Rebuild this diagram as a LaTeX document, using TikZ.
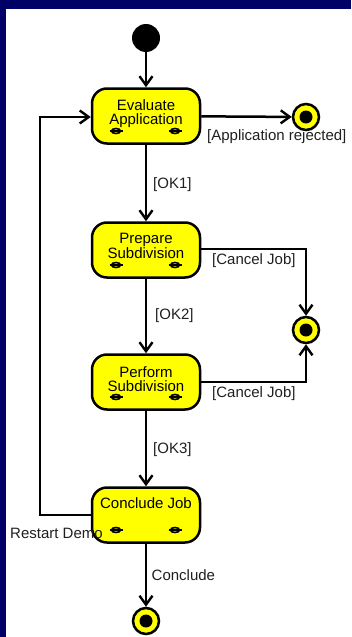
\documentclass[tikz,border=0pt]{standalone}
\usepackage{fontspec}
\setmainfont{Liberation Sans}
\usetikzlibrary{arrows.meta}
\definecolor{frameblue}{HTML}{000066}
\definecolor{actyellow}{HTML}{FFFF00}
\definecolor{labelgray}{HTML}{202020}

\begin{document}
\begin{tikzpicture}[x=1pt,y=-1pt,
  flow/.style={line width=2.5pt,-{Straight Barb[length=9pt,width=13pt,line width=2.4pt]}},
  activity/.style={draw,line width=2.5pt,fill=actyellow,rounded corners=15pt,
    minimum width=108pt,minimum height=55pt,inner sep=0pt},
  acttext/.style={font=\fontsize{15}{14.5}\selectfont,inner sep=0pt,align=center},
  guard/.style={font=\fontsize{15}{15}\selectfont,text=labelgray,inner sep=0pt,anchor=west},
  initial/.style={circle,fill=black,minimum size=28pt,inner sep=0pt},
  final/.style={circle,draw,line width=2.5pt,fill=actyellow,minimum size=26pt,inner sep=0pt}
]
% frame and canvas
\useasboundingbox (0,0) rectangle (351,637);
\fill[frameblue] (0,0) rectangle (351,637);
\fill[white] (6,9) rectangle (351,637);

% states
\node[initial] (start) at (146,38) {};
\node[activity] (eval) at (146,116) {};
\node[activity] (prep) at (146,250) {};
\node[activity] (perf) at (146,382) {};
\node[activity] (concl) at (146,515) {};
\node[final] (rejected) at (306,117) {};
\node[final] (cancelled) at (306,330) {};
\node[final] (done) at (146,621) {};
\foreach \f in {rejected,cancelled,done}
  \fill (\f.center) circle (6.5pt);

% activity names
\node[acttext] (teval) at (146,113.5) {Evaluate\\Application};
\node[acttext] (tprep) at (146,246) {Prepare\\Subdivision};
\node[acttext] (tperf) at (146,379) {Perform\\Subdivision};
\node[acttext] (tconcl) at (146,503) {Conclude Job};

% small action icons in each activity
\foreach \b in {eval,prep,perf,concl}{
  \foreach \dx in {-30,29}{
    \draw[line width=1.6pt] ([xshift=\dx pt,yshift=-15pt]\b.center) ellipse (4.5pt and 2.5pt);
    \draw[line width=1.6pt] ([xshift=\dx pt-6.5pt,yshift=-15pt]\b.center) -- ++(13,0);
  }
}

% transitions
\draw[flow] (start) -- (eval);
\draw[flow] (eval) -- (rejected);
\draw[flow] (eval) -- (prep);
\draw[flow] (prep) -- (perf);
\draw[flow] (perf) -- (concl);
\draw[flow] (concl) -- (done);
\coordinate (c1) at (306,249);
\coordinate (c2) at (306,382);
\draw[flow] (prep.east |- c1) -- (c1) -- (cancelled);
\draw[flow] (perf.east |- c2) -- (c2) -- (cancelled);
\coordinate (r1) at (40,515);
\coordinate (r2) at (40,117);
\draw[flow] (concl.west |- r1) -- (r1) -- (r2) -- (eval.west |- r2);

% guards
\node[guard] (lrej) at (207,137) {[Application rejected]};
\node[guard] (lok1) at (153,185) {[OK1]};
\node[guard] (lcan1) at (212,261) {[Cancel Job]};
\node[guard] (lok2) at (155,316) {[OK2]};
\node[guard] (lcan2) at (212,394) {[Cancel Job]};
\node[guard] (lok3) at (153,450) {[OK3]};
\node[guard] (lconcl) at (151.5,575) {Conclude};
\node[guard] (lrestart) at (10,533) {Restart Demo};
\end{tikzpicture}
\end{document}
